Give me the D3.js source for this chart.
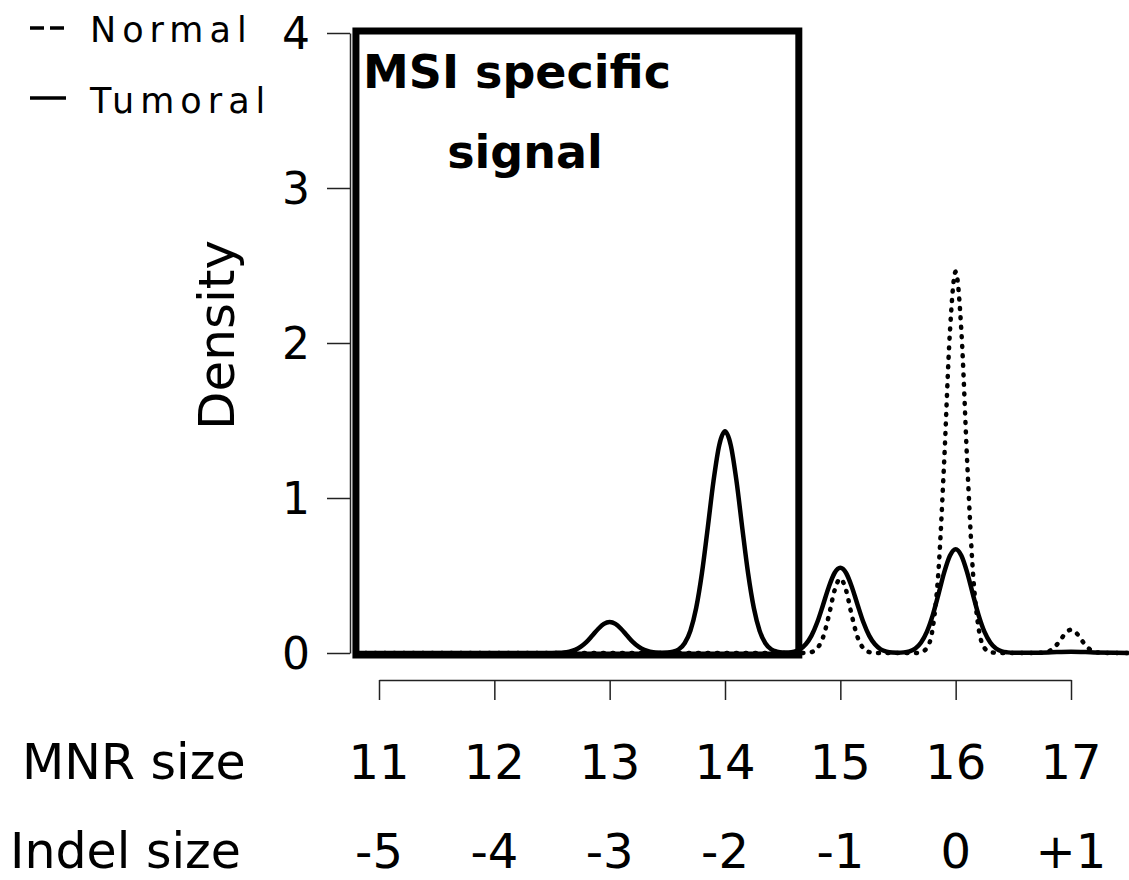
<!DOCTYPE html>
<html>
<head>
<meta charset="utf-8">
<script src="https://cdn.jsdelivr.net/npm/d3@7"></script>
<style>
  html, body { margin: 0; padding: 0; background: #fff; }
  svg { display: block; font-family: "DejaVu Sans", sans-serif; }
</style>
</head>
<body>
<svg id="chart" width="1129" height="880"></svg>
<script>
// ---------------- data ----------------
const xTicks = [11, 12, 13, 14, 15, 16, 17];
const mnrLabels = ["11", "12", "13", "14", "15", "16", "17"];
const indelLabels = ["-5", "-4", "-3", "-2", "-1", "0", "+1"];
const yTicks = [0, 1, 2, 3, 4];
const seriesNames = ["Normal", "Tumoral"];

// Tumoral density curve (MNR size, density)
const tumoralX = [10.8, 11.5, 12.0, 12.5, 12.55, 12.6, 12.65, 12.7, 12.75, 12.8, 12.85, 12.9, 12.95,
  13.0, 13.05, 13.1, 13.15, 13.2, 13.25, 13.3, 13.35, 13.4, 13.45, 13.5, 13.55, 13.6, 13.65, 13.7, 13.75,
  13.8, 13.85, 13.9, 13.95, 14.0, 14.05, 14.1, 14.15, 14.2, 14.25, 14.3, 14.35, 14.4, 14.45, 14.5, 14.55,
  14.6, 14.65, 14.7, 14.75, 14.8, 14.85, 14.9, 14.95, 15.0, 15.05, 15.1, 15.15, 15.2, 15.25, 15.3, 15.35,
  15.4, 15.45, 15.5, 15.55, 15.6, 15.65, 15.7, 15.75, 15.8, 15.85, 15.9, 15.95, 16.0, 16.05, 16.1, 16.15,
  16.2, 16.25, 16.3, 16.35, 16.4, 16.45, 16.5, 16.8, 17.0, 17.2, 17.5];
const tumoralY = [0, 0, 0, 0, 0.001, 0.003, 0.009, 0.020, 0.041, 0.072, 0.113, 0.155, 0.188,
  0.200, 0.188, 0.155, 0.113, 0.072, 0.041, 0.020, 0.009, 0.003, 0.002, 0.003, 0.009, 0.024, 0.063, 0.144, 0.290,
  0.515, 0.805, 1.108, 1.341, 1.43, 1.341, 1.108, 0.805, 0.515, 0.290, 0.144, 0.063, 0.024, 0.009, 0.004, 0.004,
  0.009, 0.024, 0.056, 0.112, 0.198, 0.310, 0.426, 0.516, 0.55, 0.516, 0.426, 0.310, 0.198, 0.112, 0.056, 0.024,
  0.009, 0.003, 0.002, 0.004, 0.011, 0.029, 0.068, 0.136, 0.241, 0.377, 0.519, 0.628, 0.67, 0.628, 0.519, 0.377,
  0.241, 0.136, 0.068, 0.029, 0.011, 0.004, 0.001, 0.004, 0.008, 0.004, 0];

// Normal density curve (MNR size, density)
const normalX = [10.8, 12.0, 13.0, 14.0, 14.6, 14.65, 14.7, 14.75, 14.8, 14.85, 14.9, 14.95, 15.0, 15.05,
  15.1, 15.15, 15.2, 15.25, 15.3, 15.4, 15.6, 15.65, 15.7, 15.75, 15.8, 15.85, 15.9, 15.95, 16.0, 16.05,
  16.1, 16.15, 16.2, 16.25, 16.3, 16.4, 16.7, 16.75, 16.8, 16.85, 16.9, 16.95, 17.0, 17.05, 17.1, 17.15,
  17.2, 17.25, 17.3, 17.5];
const normalY = [0, 0, 0, 0, 0, 0, 0.001, 0.006, 0.030, 0.101, 0.24, 0.404, 0.48, 0.404,
  0.24, 0.101, 0.030, 0.006, 0.001, 0, 0, 0, 0.005, 0.032, 0.155, 0.519, 1.23, 2.07, 2.46, 2.07,
  1.23, 0.519, 0.155, 0.032, 0.005, 0, 0, 0.002, 0.009, 0.032, 0.075, 0.126, 0.15, 0.126, 0.075, 0.032,
  0.009, 0.002, 0, 0];

// MSI region box (data coordinates)
const boxX = [10.8, 14.64];
const boxY = [0, 4];
const boxText = ["MSI specific", "signal"];

// ---------------- drawing ----------------
const svg = d3.select("#chart");
const x = d3.scaleLinear().domain([11, 17]).range([379, 1071]);
const y = d3.scaleLinear().domain([0, 4]).range([653, 33]);

// y axis
const yAxis = svg.append("g")
  .attr("transform", "translate(350,0)")
  .call(d3.axisLeft(y).tickValues(yTicks).tickSize(23).tickSizeOuter(0).tickPadding(17).tickFormat(d3.format("d")));
yAxis.select(".domain").attr("stroke", "#222").attr("stroke-width", 1.5);
yAxis.selectAll(".tick line").attr("stroke", "#222").attr("stroke-width", 1.5);
yAxis.selectAll(".tick text").attr("font-size", 44).attr("font-family", "DejaVu Sans").attr("fill", "#000").attr("dy", "0.36em");

// x axis
const xAxis = svg.append("g")
  .attr("transform", "translate(0,680)")
  .call(d3.axisBottom(x).tickValues(xTicks).tickSize(20).tickSizeOuter(0).tickFormat(""));
xAxis.select(".domain").attr("stroke", "#222").attr("stroke-width", 1.5);
xAxis.selectAll(".tick line").attr("stroke", "#222").attr("stroke-width", 1.5);

// x labels rows
svg.append("g").selectAll("text").data(xTicks).join("text")
  .attr("x", d => x(d)).attr("y", 779).attr("text-anchor", "middle")
  .attr("font-size", 48).text((d, i) => mnrLabels[i]);
svg.append("g").selectAll("text").data(xTicks).join("text")
  .attr("x", d => x(d)).attr("y", 868).attr("text-anchor", "middle")
  .attr("font-size", 48).text((d, i) => indelLabels[i]);
svg.append("text").attr("x", 22).attr("y", 779).attr("font-size", 49).text("MNR size");
svg.append("text").attr("x", 10).attr("y", 868).attr("font-size", 49).text("Indel size");

// y label
svg.append("text").attr("transform", "translate(234,335) rotate(-90)")
  .attr("text-anchor", "middle").attr("font-size", 50).text("Density");

// curves
const line = d3.line().x(d => x(d[0])).y(d => y(d[1])).curve(d3.curveMonotoneX);
const tumoral = tumoralX.map((v, i) => [v, tumoralY[i]]);
const normal = normalX.map((v, i) => [v, normalY[i]]);

svg.append("path").datum(normal).attr("d", line)
  .attr("fill", "none").attr("stroke", "#000").attr("stroke-width", 4.5)
  .attr("stroke-dasharray", "1,8.5").attr("stroke-linecap", "round");
svg.append("path").datum(tumoral).attr("d", line)
  .attr("fill", "none").attr("stroke", "#000").attr("stroke-width", 4.5)
  .attr("stroke-linejoin", "round");

// MSI box
svg.append("rect")
  .attr("x", x(boxX[0])).attr("y", y(boxY[1]) - 2)
  .attr("width", x(boxX[1]) - x(boxX[0])).attr("height", y(boxY[0]) - y(boxY[1]) + 4)
  .attr("fill", "none").attr("stroke", "#000").attr("stroke-width", 7);
svg.append("text").attr("x", 363).attr("y", 88).attr("font-size", 46).attr("font-weight", "bold").text(boxText[0]);
svg.append("text").attr("x", 525).attr("y", 168).attr("text-anchor", "middle").attr("font-size", 46).attr("font-weight", "bold").text(boxText[1]);

// legend
const leg = svg.append("g");
leg.append("line").attr("x1", 30).attr("x2", 66).attr("y1", 28).attr("y2", 28)
  .attr("stroke", "#000").attr("stroke-width", 3.5).attr("stroke-dasharray", "14,6");
leg.append("line").attr("x1", 30).attr("x2", 66).attr("y1", 98).attr("y2", 98)
  .attr("stroke", "#000").attr("stroke-width", 3.5);
leg.append("text").attr("x", 90).attr("y", 42).attr("font-size", 35).attr("letter-spacing", 6).text(seriesNames[0]);
leg.append("text").attr("x", 90).attr("y", 113).attr("font-size", 35).attr("letter-spacing", 6).text(seriesNames[1]);
</script>
</body>
</html>
